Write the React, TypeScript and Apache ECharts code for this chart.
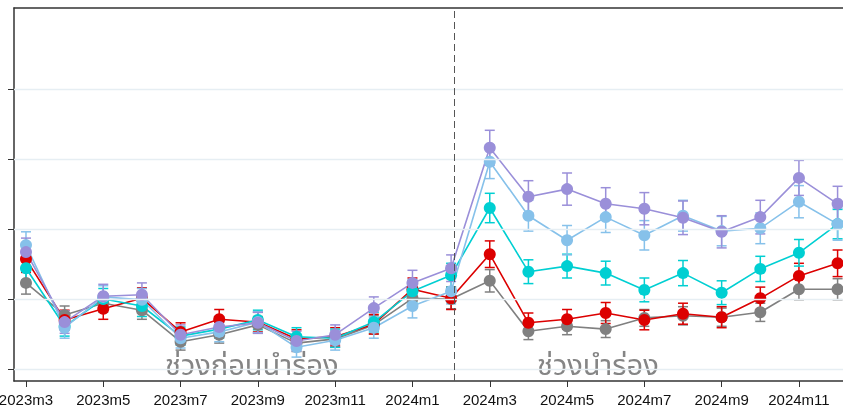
import React, { useEffect, useRef } from 'react';
import * as echarts from 'echarts';

const MONTHS = [
  '2023m3', '2023m4', '2023m5', '2023m6', '2023m7', '2023m8', '2023m9', '2023m10', '2023m11', '2023m12',
  '2024m1', '2024m2', '2024m3', '2024m4', '2024m5', '2024m6', '2024m7', '2024m8', '2024m9', '2024m10',
  '2024m11', '2024m12',
];
const X_TICK_LABELS = ['2023m3', '2023m5', '2023m7', '2023m9', '2023m11', '2024m1', '2024m3', '2024m5', '2024m7', '2024m9', '2024m11'];
const Y_TICKS = [0, 0.1, 0.2, 0.3, 0.4];
const PILOT_START = 11.07;
const LABEL_PRE = 'ช่วงก่อนนำร่อง';
const LABEL_PILOT = 'ช่วงนำร่อง';

const GRAY = [0.123, 0.077, 0.094, 0.084, 0.039, 0.049, 0.063, 0.037, 0.043, 0.063, 0.101, 0.100, 0.126, 0.054, 0.061, 0.057, 0.073, 0.076, 0.074, 0.081, 0.114, 0.114];
const GRAY_ERR = [0.016, 0.013, 0.013, 0.013, 0.012, 0.012, 0.012, 0.012, 0.012, 0.013, 0.014, 0.014, 0.016, 0.012, 0.012, 0.012, 0.012, 0.013, 0.013, 0.013, 0.015, 0.015];
const RED = [0.157, 0.070, 0.086, 0.101, 0.053, 0.071, 0.067, 0.043, 0.046, 0.064, 0.114, 0.101, 0.164, 0.066, 0.071, 0.080, 0.070, 0.079, 0.074, 0.101, 0.133, 0.151];
const RED_ERR = [0.019, 0.014, 0.015, 0.015, 0.013, 0.014, 0.014, 0.013, 0.013, 0.014, 0.016, 0.016, 0.019, 0.014, 0.014, 0.015, 0.014, 0.015, 0.015, 0.016, 0.018, 0.019];
const CYAN = [0.144, 0.061, 0.100, 0.090, 0.047, 0.057, 0.070, 0.046, 0.044, 0.067, 0.111, 0.134, 0.230, 0.139, 0.147, 0.137, 0.113, 0.137, 0.109, 0.143, 0.166, 0.207];
const CYAN_ERR = [0.017, 0.014, 0.015, 0.015, 0.013, 0.013, 0.014, 0.013, 0.013, 0.014, 0.016, 0.017, 0.021, 0.017, 0.017, 0.017, 0.017, 0.018, 0.017, 0.018, 0.019, 0.021];
const LIGHTBLUE = [0.177, 0.059, 0.103, 0.099, 0.044, 0.053, 0.067, 0.031, 0.041, 0.059, 0.090, 0.111, 0.296, 0.219, 0.184, 0.217, 0.191, 0.219, 0.197, 0.201, 0.239, 0.207];
const LIGHTBLUE_ERR = [0.019, 0.015, 0.016, 0.016, 0.014, 0.014, 0.015, 0.014, 0.014, 0.015, 0.017, 0.018, 0.024, 0.022, 0.021, 0.022, 0.021, 0.022, 0.021, 0.022, 0.023, 0.023];
const PURPLE = [0.167, 0.067, 0.104, 0.106, 0.049, 0.060, 0.066, 0.040, 0.049, 0.087, 0.123, 0.144, 0.316, 0.246, 0.257, 0.236, 0.229, 0.216, 0.196, 0.217, 0.273, 0.236];
const PURPLE_ERR = [0.020, 0.016, 0.017, 0.017, 0.014, 0.015, 0.015, 0.014, 0.014, 0.016, 0.018, 0.019, 0.025, 0.023, 0.023, 0.023, 0.023, 0.024, 0.023, 0.024, 0.025, 0.025];

const GROUPS = [
  { name: 'gray', color: '#808080', values: GRAY, err: GRAY_ERR },
  { name: 'red', color: '#dc0000', values: RED, err: RED_ERR },
  { name: 'cyan', color: '#00cfd2', values: CYAN, err: CYAN_ERR },
  { name: 'lightblue', color: '#86c1ea', values: LIGHTBLUE, err: LIGHTBLUE_ERR },
  { name: 'purple', color: '#9a8fd9', values: PURPLE, err: PURPLE_ERR },
];

const THAI_FONT = "'Noto Sans Thai', 'Noto Sans Thai UI', 'Kanit', 'Prompt', 'Tlwg Typo', 'Loma', 'Garuda', 'Noto Sans', 'DejaVu Sans', sans-serif";

export default function App() {
  const ref = useRef<HTMLDivElement>(null);
  useEffect(() => {
    if (!ref.current) return;
    const chart = echarts.init(ref.current, undefined, { renderer: 'svg' });
    const xMin = -0.31;
    const xMax = 21.14;
    const series: any[] = [];
    GROUPS.forEach((g, gi) => {
      const err: any = {
        type: 'custom',
        name: g.name + '_err',
        xAxisIndex: 0,
        yAxisIndex: 0,
        silent: true,
        encode: { x: 0, y: [1, 2] },
        data: g.values.map((v, i) => [i, v - g.err[i], v + g.err[i]]),
        renderItem: (params: any, api: any) => {
          const x = api.value(0);
          const lo = api.coord([x, api.value(1)]);
          const hi = api.coord([x, api.value(2)]);
          const w = 5;
          const style = { stroke: g.color, lineWidth: 1.5, fill: 'none' };
          return {
            type: 'group',
            children: [
              { type: 'line', shape: { x1: lo[0], y1: lo[1], x2: hi[0], y2: hi[1] }, style },
              { type: 'line', shape: { x1: lo[0] - w, y1: lo[1], x2: lo[0] + w, y2: lo[1] }, style },
              { type: 'line', shape: { x1: hi[0] - w, y1: hi[1], x2: hi[0] + w, y2: hi[1] }, style },
            ],
          };
        },
      };
      if (gi === 0) {
        err.markLine = {
          silent: true,
          symbol: 'none',
          label: { show: false },
          lineStyle: { color: '#e6eef3', width: 1.3, type: 'solid' },
          data: Y_TICKS.map((t) => ({ yAxis: t })),
        };
      }
      series.push(err);
      const line: any = {
        type: 'line',
        name: g.name,
        xAxisIndex: 0,
        yAxisIndex: 0,
        data: g.values.map((v, i) => [i, v]),
        symbol: 'circle',
        symbolSize: 12,
        showSymbol: true,
        lineStyle: { color: g.color, width: 1.6 },
        itemStyle: { color: g.color },
      };
      if (gi === 0) {
        line.markLine = {
          silent: true,
          symbol: 'none',
          label: { show: false },
          lineStyle: { color: '#555555', width: 1, type: [7, 4] },
          data: [{ xAxis: PILOT_START }],
        };
      }
      series.push(line);
    });

    chart.setOption({
      animation: false,
      grid: { left: 14, top: 8, right: 0, bottom: 31, containLabel: false, outerBoundsMode: 'none' },
      xAxis: [
        {
          type: 'value',
          min: xMin,
          max: xMax,
          position: 'bottom',
          axisLine: { show: true, onZero: false, lineStyle: { color: '#333333', width: 1.5 } },
          axisTick: {
            show: true,
            length: 6,
            lineStyle: { color: '#333333', width: 1 },
            customValues: X_TICK_LABELS.map((l) => MONTHS.indexOf(l)),
          },
          axisLabel: {
            show: true,
            customValues: X_TICK_LABELS.map((l) => MONTHS.indexOf(l)),
            formatter: (v: number) => MONTHS[Math.round(v)] ?? '',
            color: '#111111',
            fontSize: 15,
            fontFamily: "'Liberation Sans', Arial, sans-serif",
            margin: 11,
            hideOverlap: false,
            alignMinLabel: 'center',
            alignMaxLabel: 'center',
          },
          splitLine: { show: false },
        },
        {
          type: 'value',
          min: xMin,
          max: xMax,
          position: 'top',
          axisLine: { show: true, onZero: false, lineStyle: { color: '#333333', width: 1.5 } },
          axisTick: { show: false },
          axisLabel: { show: false },
          splitLine: { show: false },
        },
      ],
      yAxis: {
        type: 'value',
        min: -0.01714,
        max: 0.51571,
        axisLine: { show: true, onZero: false, lineStyle: { color: '#333333', width: 1.5 } },
        axisTick: {
          show: true,
          length: 6,
          lineStyle: { color: '#333333', width: 1 },
          customValues: Y_TICKS,
        },
        axisLabel: { show: false },
        splitLine: { show: false },
      },
      graphic: [
        {
          type: 'text',
          left: 165,
          top: 351,
          silent: true,
          style: { text: LABEL_PRE, fill: '#858585', fontSize: 29, fontFamily: THAI_FONT },
        },
        {
          type: 'text',
          left: 537,
          top: 351,
          silent: true,
          style: { text: LABEL_PILOT, fill: '#858585', fontSize: 29, fontFamily: THAI_FONT },
        },
      ],
      series,
    });
    return () => chart.dispose();
  }, []);
  return <div ref={ref} style={{ position: 'fixed', left: 0, top: 0, width: 843, height: 412 }} />;
}
